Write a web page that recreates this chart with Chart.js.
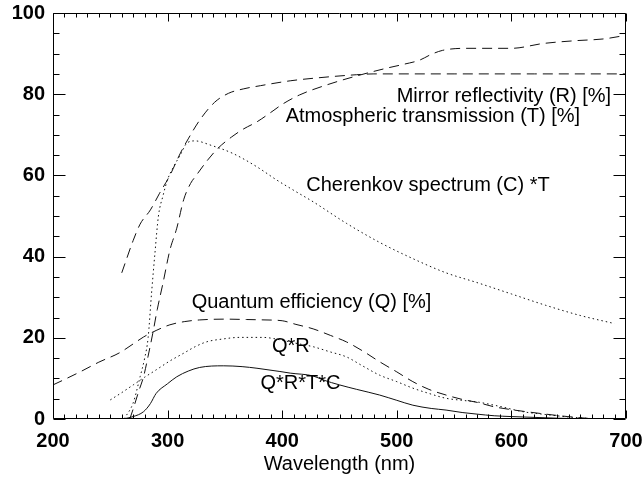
<!DOCTYPE html>
<html>
<head>
<meta charset="utf-8">
<title>Cherenkov light detection efficiency</title>
<script src="https://cdn.jsdelivr.net/npm/chart.js@4.4.1/dist/chart.umd.min.js"></script>
<style>
  html, body { margin: 0; padding: 0; background: #fff; }
  #wrap { width: 642px; height: 480px; }
</style>
</head>
<body>
<div id="wrap"><canvas id="spectrumChart" width="642" height="480"></canvas></div>
<script>
// Axis ranges
const xRange = [200, 700];
const yRange = [0, 100];

// Mirror reflectivity (R) [%]
const mirrorNm  = [260, 270, 276, 285, 293, 302, 311, 318, 328, 341, 353, 366, 381, 407, 430, 465, 480, 550, 620, 700];
const mirrorPct = [36, 44, 48, 51.5, 55.6, 60, 65.4, 69, 73.6, 78, 80.2, 81.3, 82.1, 83.3, 84, 84.8, 85, 85, 85, 85];

// Atmospheric transmission (T) [%]
const atmoNm  = [267, 270, 275, 279, 283, 287, 291, 296, 302, 308, 314, 320, 325, 335, 344, 356, 366, 378, 392, 400, 415, 439, 465, 491, 505, 520, 530, 540, 560, 600, 628, 657, 680, 700];
const atmoPct = [0, 2.5, 7, 10.4, 15.5, 21, 27, 33.5, 41.6, 47, 54, 58, 60, 63.8, 66.7, 69.5, 71.4, 73.2, 75.9, 77.5, 79.8, 82.3, 84.5, 86.4, 87.3, 88.4, 89.8, 90.8, 91.3, 91.3, 92.5, 93.2, 93.6, 94.5];

// Cherenkov spectrum (C) * T
const cherNm  = [262, 270, 276, 280, 283, 286, 289, 292, 296, 300, 305, 311, 317, 324, 337, 357, 378, 395, 412, 427, 456, 485, 514, 543, 570, 600, 630, 660, 690];
const cherVal = [0, 4, 10.4, 15, 20, 31, 41, 50, 55, 59, 62, 65, 68, 68.5, 67.5, 65.4, 62.1, 58.9, 56, 53.5, 48.2, 43.5, 39.5, 36, 33.6, 30.8, 28, 25.5, 23.5];

// Quantum efficiency (Q) [%]
const qeNm  = [200, 212, 225, 240, 258, 270, 279, 290, 302, 315, 328, 350, 369, 385, 400, 412, 427, 442, 456, 470, 485, 500, 514, 528, 543, 556, 570, 585, 600, 613, 630, 649, 665, 675];
const qePct = [8.4, 10, 11.8, 14, 16.3, 18.5, 20.2, 21.8, 23.2, 24, 24.4, 24.6, 24.5, 24.4, 24.2, 23.3, 22.2, 20.6, 19, 16.8, 14.1, 11.6, 9.2, 7.3, 5.9, 4.9, 4.1, 3, 2.3, 1.8, 1.2, 0.6, 0.2, 0];

// Q*R
const qrNm  = [250, 260, 270, 280, 290, 302, 314, 324, 334, 348, 363, 383, 400, 413, 427, 441, 456, 470, 485, 500, 514, 528, 543, 557, 570, 590, 610, 630, 650, 670];
const qrVal = [4.7, 6.5, 8.4, 10.3, 12.1, 14.3, 16.2, 17.8, 19, 19.7, 20.1, 20.1, 19.4, 18.6, 17.8, 16.6, 15.3, 13.1, 10.8, 9.2, 7.6, 6.3, 5.1, 4.6, 4.2, 3.1, 1.8, 1.1, 0.5, 0.1];

// Q*R*T*C
const totNm  = [261, 270, 279, 285, 290, 300, 308, 318, 328, 349, 365, 378, 398, 407, 427, 436, 450, 465, 485, 500, 514, 530, 543, 557, 570, 585, 600, 620, 640, 655, 665];
const totVal = [0, 0.6, 1.8, 3.8, 6.3, 8.7, 10.4, 11.8, 12.7, 13.1, 12.9, 12.5, 11.7, 11.3, 10.6, 9.6, 8.4, 7.3, 5.9, 4.6, 3.4, 2.6, 2.2, 1.6, 1.2, 0.8, 0.6, 0.4, 0.2, 0.1, 0];

// Curve captions, placed in data units
const notes = [
  { text: 'Mirror reflectivity (R) [%]',      nm: 687, val: 79.4, align: 'right' },
  { text: 'Atmospheric transmission (T) [%]', nm: 660, val: 74.5, align: 'right' },
  { text: 'Cherenkov spectrum (C) *T',        nm: 421, val: 57.6, align: 'left' },
  { text: 'Quantum efficiency (Q) [%]',       nm: 321, val: 28.6, align: 'left' },
  { text: 'Q*R',                              nm: 391, val: 17.8, align: 'left' },
  { text: 'Q*R*T*C',                          nm: 381, val: 8.8,  align: 'left' }
];

const FONT = '"Liberation Sans", Arial, Helvetica, sans-serif';
const DASHED = [10, 6];
const DOTTED = [1.5, 3];

function toPoints(xs, ys) {
  return xs.map((x, i) => ({ x: x, y: ys[i] }));
}

function curve(label, xs, ys, dash) {
  return {
    label: label,
    data: toPoints(xs, ys),
    borderColor: '#111',
    borderWidth: 1,
    borderDash: dash,
    pointRadius: 0,
    fill: false,
    cubicInterpolationMode: 'monotone'
  };
}

// Box around the plot with inward ticks on all four sides, plus captions
const framePlugin = {
  id: 'frame',
  afterDatasetsDraw(chart) {
    const { ctx, chartArea: a, scales: { x, y } } = chart;
    const L = Math.round(a.left) + 0.5, R = Math.round(a.right) - 0.5;
    const T = Math.round(a.top) + 0.5, B = Math.round(a.bottom) - 0.5;
    ctx.save();
    ctx.strokeStyle = '#000';
    ctx.lineWidth = 1;
    ctx.setLineDash([]);
    ctx.beginPath();
    ctx.moveTo(L, T); ctx.lineTo(R, T); ctx.lineTo(R, B); ctx.lineTo(L, B); ctx.closePath();
    for (let v = xRange[0]; v <= xRange[1]; v += 10) {
      const px = Math.round(x.getPixelForValue(v)) + 0.5;
      const len = v % 100 === 0 ? 8 : 4;
      ctx.moveTo(px, B); ctx.lineTo(px, B - len);
      ctx.moveTo(px, T); ctx.lineTo(px, T + len);
    }
    for (let v = yRange[0]; v <= yRange[1]; v += 5) {
      const py = Math.round(y.getPixelForValue(v)) + 0.5;
      const len = v % 20 === 0 ? 12 : 6;
      ctx.moveTo(L, py); ctx.lineTo(L + len, py);
      ctx.moveTo(R, py); ctx.lineTo(R - len, py);
    }
    ctx.stroke();

    ctx.fillStyle = '#000';
    ctx.font = '20px ' + FONT;
    ctx.textBaseline = 'middle';
    notes.forEach(n => {
      ctx.textAlign = n.align;
      ctx.fillText(n.text, x.getPixelForValue(n.nm), y.getPixelForValue(n.val));
    });
    ctx.restore();
  }
};

new Chart(document.getElementById('spectrumChart'), {
  type: 'line',
  data: {
    datasets: [
      curve('Mirror reflectivity (R) [%]', mirrorNm, mirrorPct, DASHED),
      curve('Atmospheric transmission (T) [%]', atmoNm, atmoPct, DASHED),
      curve('Cherenkov spectrum (C) *T', cherNm, cherVal, DOTTED),
      curve('Quantum efficiency (Q) [%]', qeNm, qePct, DASHED),
      curve('Q*R', qrNm, qrVal, DOTTED),
      curve('Q*R*T*C', totNm, totVal, [])
    ]
  },
  options: {
    responsive: false,
    animation: false,
    devicePixelRatio: 1,
    layout: { padding: { top: 13, right: 16, bottom: 0, left: 0 } },
    plugins: {
      legend: { display: false },
      tooltip: { enabled: false }
    },
    scales: {
      x: {
        type: 'linear',
        min: xRange[0],
        max: xRange[1],
        grid: { display: false, drawTicks: false },
        border: { display: false },
        ticks: {
          stepSize: 100,
          maxRotation: 0,
          autoSkip: false,
          padding: 10,
          color: '#000',
          font: { family: FONT, size: 20, weight: 'bold' }
        },
        title: {
          display: true,
          text: 'Wavelength (nm)',
          color: '#000',
          font: { family: FONT, size: 20 },
          padding: { top: 0, bottom: 4 }
        },
        afterFit(scale) {
          scale.height = 61;
          scale.paddingLeft = 0;
          scale.paddingRight = 0;
        }
      },
      y: {
        min: yRange[0],
        max: yRange[1],
        grid: { display: false, drawTicks: false },
        border: { display: false },
        ticks: {
          stepSize: 20,
          padding: 8,
          color: '#000',
          font: { family: FONT, size: 20, weight: 'bold' }
        },
        afterFit(scale) {
          scale.width = 53;
          scale.paddingTop = 0;
          scale.paddingBottom = 0;
        }
      }
    }
  },
  plugins: [framePlugin]
});
</script>
</body>
</html>
